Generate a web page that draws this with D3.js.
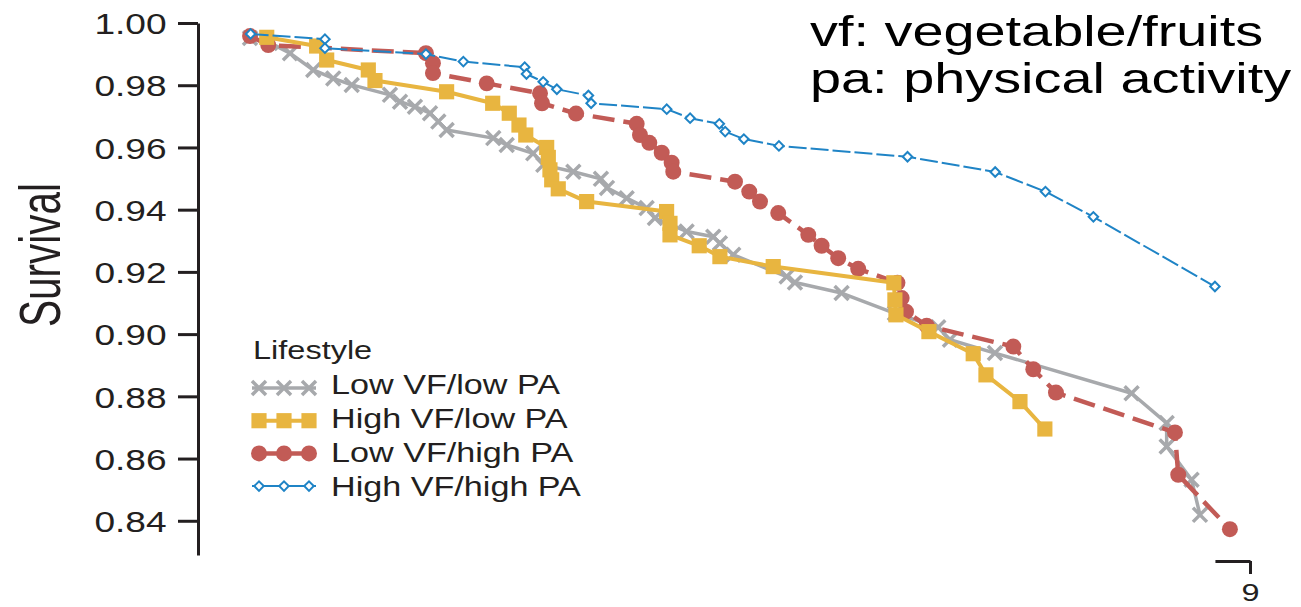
<!DOCTYPE html>
<html>
<head>
<meta charset="utf-8">
<script src="https://cdn.jsdelivr.net/npm/d3@7"></script>
<style>
  html, body { margin: 0; padding: 0; background: #fff; }
  svg { display: block; }
  text { font-family: "Liberation Sans", Arial, Helvetica, sans-serif; }
</style>
</head>
<body>
<svg id="chart" width="1301" height="607"></svg>
<script>
// Kaplan–Meier style survival curves by lifestyle group: [years, survival]
const lowVfLowPa = [
  [0.445,0.9952],[0.616,0.9936],[0.787,0.9903],[0.986,0.9849],[1.157,0.9822],[1.315,0.9801],
  [1.642,0.9769],[1.728,0.9747],[1.856,0.9731],[1.985,0.9710],[2.056,0.9683],[2.127,0.9656],
  [2.526,0.9630],[2.641,0.9608],[2.868,0.9581],[2.954,0.9544],[3.211,0.9522],[3.447,0.9499],
  [3.499,0.9470],[3.667,0.9437],[3.838,0.9405],[3.909,0.9373],[4.180,0.9330],[4.408,0.9313],
  [4.465,0.9292],[4.579,0.9255],[5.036,0.9185],[5.107,0.9166],[5.506,0.9132],[5.962,0.9067],
  [6.333,0.9022],[6.433,0.8982],[6.818,0.8939],[7.987,0.8810],[8.287,0.8714],[8.287,0.8639],
  [8.500,0.8532],[8.572,0.8419]
];
const highVfLowPa = [
  [0.588,0.9954],[1.015,0.9926],[1.101,0.9881],[1.457,0.9849],[1.514,0.9815],[2.127,0.9779],
  [2.521,0.9742],[2.663,0.9710],[2.746,0.9672],[2.804,0.9640],[2.983,0.9600],[2.997,0.9568],
  [3.011,0.9528],[3.026,0.9496],[3.082,0.9467],[3.325,0.9426],[4.009,0.9394],[4.038,0.9356],
  [4.038,0.9319],[4.288,0.9284],[4.465,0.9249],[4.921,0.9217],[5.953,0.9165],[5.962,0.9110],
  [5.971,0.9062],[6.253,0.9008],[6.632,0.8937],[6.741,0.8869],[7.032,0.8783],[7.245,0.8695]
];
const lowVfHighPa = [
  [0.445,0.9958],[0.601,0.9929],[1.950,0.9903],[2.010,0.9871],[2.010,0.9839],[2.470,0.9806],
  [2.926,0.9774],[2.943,0.9742],[3.234,0.9709],[3.753,0.9676],[3.781,0.9640],[3.861,0.9615],
  [3.967,0.9583],[4.052,0.9551],[4.066,0.9522],[4.594,0.9490],[4.716,0.9458],[4.808,0.9426],
  [4.964,0.9389],[5.221,0.9319],[5.335,0.9284],[5.477,0.9244],[5.648,0.9210],[5.984,0.9165],
  [6.020,0.9116],[6.057,0.9072],[6.234,0.9027],[6.975,0.8960],[7.146,0.8887],[7.340,0.8812],
  [8.358,0.8684],[8.386,0.8548],[8.828,0.8373]
];
const highVfHighPa = [
  [0.450,0.9965],[1.086,0.9948],[1.086,0.9919],[1.950,0.9900],[2.270,0.9876],[2.795,0.9858],
  [2.810,0.9836],[2.953,0.9811],[3.070,0.9787],[3.340,0.9767],[3.363,0.9742],[4.010,0.9723],
  [4.210,0.9694],[4.460,0.9676],[4.510,0.9651],[4.670,0.9627],[4.970,0.9605],[6.070,0.9570],
  [6.820,0.9521],[7.250,0.9458],[7.660,0.9377],[8.700,0.9153]
];

const seriesNames = ["Low VF/low PA", "High VF/low PA", "Low VF/high PA", "High VF/high PA"];
const yTicks = [0.84, 0.86, 0.88, 0.90, 0.92, 0.94, 0.96, 0.98, 1.00];
const xTicks = [9];
const notes = ["vf: vegetable/fruits", "pa: physical activity"];

const INK = "#231f20";
const svg = d3.select("#chart");
svg.append("rect").attr("width", 1301).attr("height", 607).attr("fill", "#fff");

const x = d3.scaleLinear().domain([0, 9]).range([198, 1250]);
const y = d3.scaleLinear().domain([0.829, 1.0]).range([555, 23]);

// Y axis
svg.append("g")
  .attr("transform", `translate(${x(0)},0)`)
  .attr("font-family", null)
  .call(d3.axisLeft(y).tickValues(yTicks).tickFormat(d3.format(".2f"))
        .tickSize(20).tickSizeOuter(0).tickPadding(4.5))
  .call(g => g.select(".domain").attr("stroke", INK).attr("stroke-width", 3))
  .call(g => g.selectAll(".tick line").attr("stroke", INK).attr("stroke-width", 3))
  .call(g => g.selectAll(".tick text")
     .attr("font-size", 29).attr("fill", INK).attr("dy", "0.37em")
     .attr("transform", "scale(1.28,1)"));

// Tail end of the time axis
const xTail = d3.scaleLinear().domain([8.7, 9]).range([x(8.7), x(9)]);
svg.append("g")
  .attr("transform", "translate(0,561)")
  .attr("font-family", null)
  .call(d3.axisBottom(xTail).tickValues(xTicks).tickFormat(d3.format("d"))
        .tickSize(13).tickSizeOuter(0).tickPadding(10))
  .call(g => g.select(".domain").attr("stroke", INK).attr("stroke-width", 3))
  .call(g => g.selectAll(".tick line").attr("stroke", INK).attr("stroke-width", 3))
  .call(g => g.selectAll(".tick text")
     .attr("font-size", 24).attr("fill", INK)
     .attr("transform", "scale(1.35,1)"));

// Y axis title
svg.append("text")
  .attr("transform", "translate(60,255) rotate(-90)")
  .attr("text-anchor", "middle")
  .attr("font-size", 57)
  .attr("textLength", 144)
  .attr("lengthAdjust", "spacingAndGlyphs")
  .attr("fill", INK)
  .text("Survival");

// Series styles
const styles = [
  { data: lowVfLowPa,   color: "#a7a9ac", width: 3.5, dash: null,   sym: d3.symbolTimes,  size: 130, fill: "none",  sw: 3.5 },
  { data: highVfLowPa,  color: "#e8b540", width: 4,   dash: null,   sym: d3.symbolSquare, size: 230, fill: "fill",  sw: 0 },
  { data: lowVfHighPa,  color: "#c25b56", width: 4.5, dash: "22,9", sym: d3.symbolCircle, size: 200, fill: "fill",  sw: 0 },
  { data: highVfHighPa, color: "#1f84c6", width: 2,   dash: "18,4", sym: d3.symbolSquare, size: 45,  fill: "#fff",  sw: 2, rot: 45 }
];
const drawOrder = [0, 2, 1, 3];

const line = d3.line().x(d => x(d[0])).y(d => y(d[1]));

function drawMarker(sel, s) {
  sel.attr("d", d3.symbol(s.sym, s.size))
    .attr("fill", s.fill === "fill" ? s.color : s.fill)
    .attr("stroke", s.sw ? s.color : "none")
    .attr("stroke-width", s.sw);
}

const plot = svg.append("g");
drawOrder.forEach(i => {
  const s = styles[i];
  plot.append("path")
    .datum(s.data)
    .attr("d", line)
    .attr("fill", "none")
    .attr("stroke", s.color)
    .attr("stroke-width", s.width)
    .attr("stroke-dasharray", s.dash)
    .attr("stroke-linejoin", "round");
  plot.append("g").selectAll("path")
    .data(s.data)
    .join("path")
    .attr("transform", d => `translate(${x(d[0])},${y(d[1])})` + (s.rot ? ` rotate(${s.rot})` : ""))
    .call(drawMarker, s);
});

// Legend
const legend = svg.append("g");
legend.append("text")
  .attr("transform", "translate(253,359) scale(1.3,1)")
  .attr("font-size", 25).attr("fill", INK)
  .text("Lifestyle");

seriesNames.forEach((name, i) => {
  const s = styles[i];
  const ry = 388 + 32.7 * i;
  legend.append("line")
    .attr("x1", 252).attr("x2", 316).attr("y1", ry).attr("y2", ry)
    .attr("stroke", s.color).attr("stroke-width", s.width);
  [259, 284, 309].forEach(mx => {
    legend.append("path")
      .attr("transform", `translate(${mx},${ry})` + (s.rot ? ` rotate(${s.rot})` : ""))
      .call(drawMarker, s);
  });
  legend.append("text")
    .attr("transform", `translate(331,${393.5 + 34 * i}) scale(1.22,1)`)
    .attr("font-size", 28).attr("fill", INK)
    .text(name);
});

// Abbreviation notes
notes.forEach((t, i) => {
  svg.append("text")
    .attr("transform", `translate(810,${46 + 47 * i}) scale(1.33,1)`)
    .attr("font-size", 42).attr("fill", "#000")
    .text(t);
});
</script>
</body>
</html>
